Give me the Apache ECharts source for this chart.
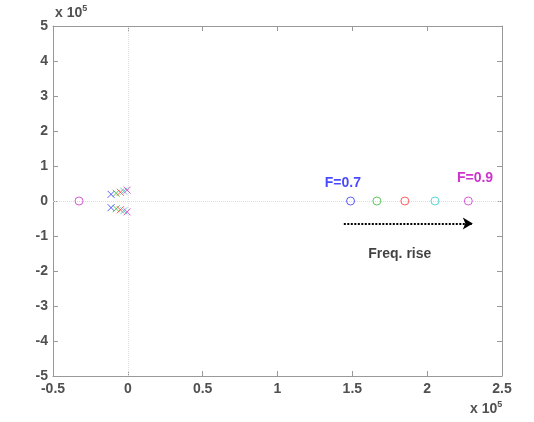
<!DOCTYPE html>
<html><head><meta charset="utf-8">
<script src="https://cdn.jsdelivr.net/npm/echarts@6/dist/echarts.min.js"></script>
<style>html,body{margin:0;padding:0;background:#fff}#c{width:534px;height:422px}</style>
</head><body><div id="c"></div>
<script>
// values in units of 1e5
const xTicks = [-0.5, 0, 0.5, 1, 1.5, 2, 2.5];
const yTicks = [-5, -4, -3, -2, -1, 0, 1, 2, 3, 4, 5];
const seriesNames = ['F1', 'F2', 'F3', 'F4', 'F5'];
const colors = ['#3333ff', '#33bb33', '#ff3333', '#33cccc', '#cc33cc'];
// zeros (circles) on the real axis
const zeroX = [1.488, 1.664, 1.851, 2.052, 2.275];
const extraZero = [-0.326, 0]; // magenta zero on left
// poles (crosses): conjugate pairs
const poleX = [-0.112, -0.078, -0.050, -0.027, -0.005];
const poleY = [0.19, 0.22, 0.25, 0.28, 0.31];
// arrow
const arrowStart = [1.443, -0.646];
const arrowEnd = [2.305, -0.646];
// annotations
const labels = [
  { text: 'F=0.7', pos: [1.437, 0.506], color: '#1a1aff' },
  { text: 'F=0.9', pos: [2.32, 0.65], color: '#c000c0' },
  { text: 'Freq. rise', pos: [1.817, -1.52], color: '#111' }
];

const crossPath = 'path://M0,0L10,10M10,0L0,10';
const axisColor = '#999';
const FONT = 'Liberation Sans, Arial, sans-serif';
const labelStyle = { color: '#505050', fontWeight: 'bold', fontSize: 14, fontFamily: FONT };

const series = [];
seriesNames.forEach((n, i) => {
  const zdata = [[zeroX[i], 0]];
  if (i === 4) zdata.push(extraZero);
  series.push({
    type: 'scatter', name: n + ' zeros', data: zdata, symbol: 'circle', symbolSize: 8,
    itemStyle: { color: 'rgba(0,0,0,0)', borderColor: colors[i], borderWidth: 1 }, z: 5
  });
  series.push({
    type: 'scatter', name: n + ' poles', data: [[poleX[i], poleY[i]], [poleX[i], -poleY[i]]],
    symbol: crossPath, symbolSize: 7,
    itemStyle: { color: 'rgba(0,0,0,0)', borderColor: colors[i], borderWidth: 1 }, z: 5
  });
});
// reference lines + arrow
series.push({
  type: 'line', data: [], silent: true,
  markLine: {
    silent: true, animation: false, symbol: 'none', label: { show: false },
    lineStyle: { color: '#ddd', type: 'dotted', width: 1 },
    data: [{ xAxis: 0 }, { yAxis: 0 }]
  }
});
series.push({
  type: 'line', data: [], silent: true,
  markLine: {
    silent: true, animation: false, symbol: ['none', 'arrow'], symbolSize: [9, 10],
    label: { show: false },
    lineStyle: { color: '#000', type: [2, 1.5], width: 2.2, opacity: 1 },
    data: [[{ coord: arrowStart }, { coord: arrowEnd }]]
  }
});
// text labels
labels.forEach(l => {
  series.push({
    type: 'scatter', data: [l.pos], symbolSize: 0, silent: true,
    label: { show: true, position: 'inside', formatter: l.text, color: l.color, fontWeight: 'bold', fontSize: 14, fontFamily: FONT }
  });
});

const axisCommon = {
  type: 'value',
  axisLine: { show: true, onZero: false, lineStyle: { color: axisColor } },
  axisTick: { show: true, inside: true, length: 5, lineStyle: { color: axisColor } },
  splitLine: { show: false }
};

const chart = echarts.init(document.getElementById('c'), null, { renderer: 'canvas' });
chart.setOption({
  animation: false,
  backgroundColor: '#fff',
  grid: { left: 53, right: 32, top: 26, bottom: 46 },
  xAxis: [
    Object.assign({}, axisCommon, { position: 'bottom', min: xTicks[0], max: xTicks[xTicks.length - 1], interval: 0.5,
      axisLabel: Object.assign({ margin: 6, formatter: v => String(v) }, labelStyle) }),
    Object.assign({}, axisCommon, { position: 'top', min: xTicks[0], max: xTicks[xTicks.length - 1], interval: 0.5,
      axisLabel: { show: false } })
  ],
  yAxis: [
    Object.assign({}, axisCommon, { position: 'left', min: yTicks[0], max: yTicks[yTicks.length - 1], interval: 1,
      axisLabel: Object.assign({ margin: 5 }, labelStyle) }),
    Object.assign({}, axisCommon, { position: 'right', min: yTicks[0], max: yTicks[yTicks.length - 1], interval: 1,
      axisLabel: { show: false } })
  ],
  graphic: [
    { type: 'text', left: 55, top: 4, style: { rich: { b: { fontSize: 14, fontWeight: 'bold', fill: '#505050', fontFamily: FONT }, s: { fontSize: 9, fontWeight: 'bold', fill: '#505050', verticalAlign: 'top', padding: [0,0,10,0], fontFamily: FONT } }, text: '{b|x 10}{s|5}' } },
    { type: 'text', left: 470, top: 400, style: { rich: { b: { fontSize: 14, fontWeight: 'bold', fill: '#505050', fontFamily: FONT }, s: { fontSize: 9, fontWeight: 'bold', fill: '#505050', verticalAlign: 'top', padding: [0,0,10,0], fontFamily: FONT } }, text: '{b|x 10}{s|5}' } }
  ],
  series: series
});
</script></body></html>
